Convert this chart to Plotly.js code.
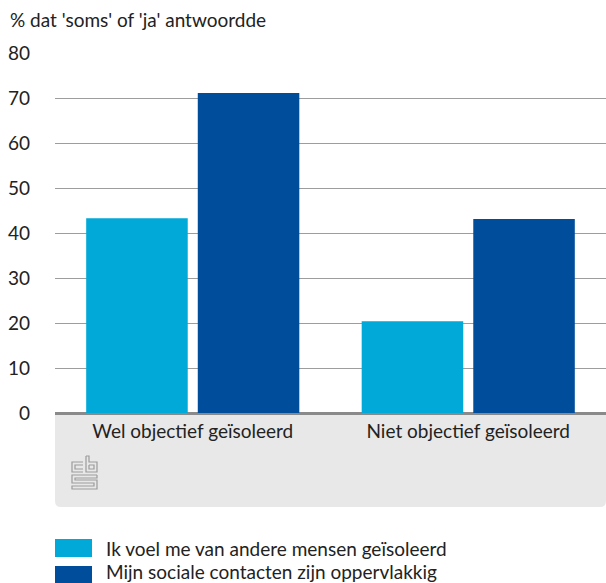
<!DOCTYPE html>
<html>
<head>
<meta charset="utf-8">
<script src="https://cdn.plot.ly/plotly-3.0.1.min.js"></script>
<style>
html,body{margin:0;padding:0;background:#fff;}
#chart{width:606px;height:583px;}
</style>
</head>
<body>
<div id="chart"></div>
<script>
const categories = ["Wel objectief geïsoleerd", "Niet objectief geïsoleerd"];
const seriesNames = ["Ik voel me van andere mensen geïsoleerd", "Mijn sociale contacten zijn oppervlakkig"];
const seriesIsolated = [43.3, 20.4];
const seriesSuperficial = [71.1, 43.1];
const seriesColors = ["#00a9d8", "#004d9b"];
const yTickValues = [0, 10, 20, 30, 40, 50, 60, 70, 80];
const yTitle = "% dat 'soms' of 'ja' antwoordde";

const W = 606, H = 583;
const M = {l: 55, r: 0, t: 53, b: 170};
const PW = W - M.l - M.r, PH = H - M.t - M.b;
const px = x => (x - M.l) / PW;
const py = y => (H - M.b - y) / PH;

const FONT = "Lato, 'Open Sans', sans-serif";
const FS = 19;
const TXT = "#222222";

const traces = [
  {type: "bar", x: categories, y: seriesIsolated, name: seriesNames[0],
   marker: {color: seriesColors[0]}, hoverinfo: "none", showlegend: false},
  {type: "bar", x: categories, y: seriesSuperficial, name: seriesNames[1],
   marker: {color: seriesColors[1]}, hoverinfo: "none", showlegend: false}
];

// gray footer box with rounded bottom corners
const bx0 = px(55), bx1 = px(606), by0 = py(413), by1 = py(507);
const rx = 6 / PW, ry = 6 / PH;
const boxPath = `M${bx0},${by0} L${bx1},${by0} L${bx1},${by1 + ry} Q${bx1},${by1} ${bx1 - rx},${by1} L${bx0 + rx},${by1} Q${bx0},${by1} ${bx0},${by1 + ry} Z`;

// CBS logo outline (pixel coords converted to paper)
function lp(pts) {
  return pts.map((p, i) => (i ? "L" : "M") + px(p[0]) + "," + py(p[1])).join(" ");
}
const L0x = 72, L0y = 456;
const logoLines = [
  // c
  [[L0x+11,L0y+6],[L0x,L0y+6],[L0x,L0y+16],[L0x+11,L0y+16]],
  [[L0x+11,L0y+9],[L0x+3,L0y+9],[L0x+3,L0y+13],[L0x+11,L0y+13]],
  // b
  [[L0x+14,L0y],[L0x+14,L0y+16],[L0x+25,L0y+16],[L0x+25,L0y+6],[L0x+17,L0y+6],[L0x+17,L0y],[L0x+14,L0y]],
  [[L0x+17,L0y+9],[L0x+22,L0y+9],[L0x+22,L0y+13],[L0x+17,L0y+13],[L0x+17,L0y+9]],
  // S
  [[L0x+25,L0y+19],[L0x,L0y+19],[L0x,L0y+27],[L0x+22,L0y+27],[L0x+22,L0y+30],[L0x,L0y+30],[L0x,L0y+33],[L0x+25,L0y+33],[L0x+25,L0y+24],[L0x+3,L0y+24],[L0x+3,L0y+22],[L0x+25,L0y+22],[L0x+25,L0y+19]]
];

const shapes = [
  {type: "path", xref: "paper", yref: "paper", path: boxPath,
   fillcolor: "#e8e8e8", line: {width: 0}, layer: "below"},
  ...logoLines.map(pts => ({type: "path", xref: "paper", yref: "paper", path: lp(pts),
   line: {color: "#9b9b9b", width: 1.2}, fillcolor: "rgba(0,0,0,0)", layer: "above"})),
  // legend swatches
  {type: "rect", xref: "paper", yref: "paper", x0: px(55), x1: px(92), y0: py(539), y1: py(557),
   fillcolor: seriesColors[0], line: {width: 0}},
  {type: "rect", xref: "paper", yref: "paper", x0: px(55), x1: px(92), y0: py(566), y1: py(584),
   fillcolor: seriesColors[1], line: {width: 0}}
];

const annotations = [
  {xref: "paper", yref: "paper", x: px(104), y: py(548), text: seriesNames[0],
   xanchor: "left", yanchor: "middle", showarrow: false, font: {family: FONT, size: FS, color: TXT}},
  {xref: "paper", yref: "paper", x: px(104), y: py(571), text: seriesNames[1],
   xanchor: "left", yanchor: "middle", showarrow: false, font: {family: FONT, size: FS, color: TXT}}
];

const layout = {
  width: W, height: H,
  margin: M,
  paper_bgcolor: "#ffffff", plot_bgcolor: "#ffffff",
  font: {family: FONT, size: FS, color: TXT},
  title: {text: yTitle, x: 10 / W, xanchor: "left", xref: "container",
          y: 1 - 20 / H, yanchor: "middle", yref: "container",
          font: {family: FONT, size: FS, color: TXT}},
  barmode: "group",
  bargap: 0.19,
  bargroupgap: 0.09,
  showlegend: false,
  xaxis: {type: "category", showgrid: false, zeroline: false, showline: false,
          ticks: "", tickfont: {family: FONT, size: FS, color: TXT}, ticklabelstandoff: 5},
  yaxis: {range: [0, 80], tickvals: yTickValues, ticktext: yTickValues.map(String),
          showgrid: true, gridcolor: "#9d9d9d", gridwidth: 1,
          zeroline: true, zerolinecolor: "#8a8a8a", zerolinewidth: 3,
          showline: false, ticks: "", ticklabelstandoff: 24,
          tickfont: {family: FONT, size: FS, color: TXT}},
  shapes: shapes,
  annotations: annotations
};

Plotly.newPlot("chart", traces, layout, {displayModeBar: false, staticPlot: true});
</script>
</body>
</html>
